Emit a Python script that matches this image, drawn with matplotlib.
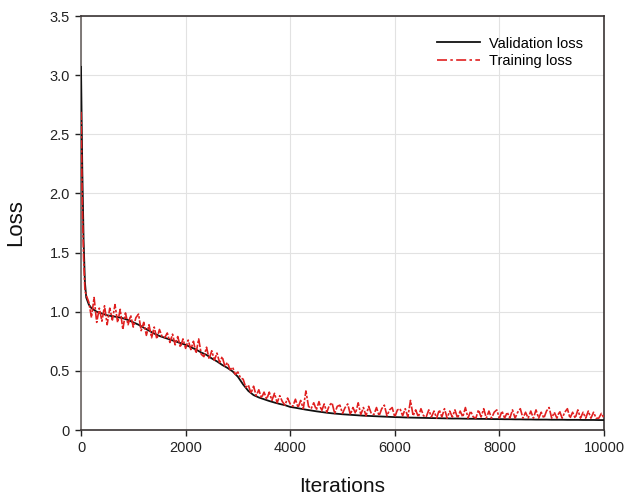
import numpy as np
import matplotlib
matplotlib.use("Agg")
import matplotlib.pyplot as plt

plt.rcParams['font.family'] = ['Liberation Sans', 'DejaVu Sans']

# ---- data ----
val_x = np.concatenate([[0, 25, 50, 75, 100, 150, 200], np.arange(300, 10001, 100)])
val_loss = [
    3.07, 2.20, 1.60, 1.25, 1.12, 1.06, 1.03,
    1.00, 0.985, 0.97, 0.962, 0.955, 0.945, 0.93, 0.91, 0.89, 0.865,
    0.84, 0.815, 0.795, 0.78, 0.765, 0.75, 0.735, 0.72, 0.70, 0.68,
    0.655, 0.635, 0.605, 0.58, 0.55, 0.525, 0.495, 0.45, 0.385, 0.33,
    0.295, 0.275, 0.26, 0.245, 0.232, 0.22, 0.21, 0.195, 0.188, 0.18,
    0.172, 0.165, 0.158, 0.152, 0.146, 0.141, 0.137, 0.133, 0.13, 0.127,
    0.124, 0.121, 0.119, 0.117, 0.115, 0.113, 0.111, 0.109, 0.108, 0.106,
    0.105, 0.104, 0.103, 0.102, 0.101, 0.10, 0.099, 0.098, 0.097, 0.097,
    0.096, 0.095, 0.095, 0.094, 0.094, 0.093, 0.092, 0.092, 0.091, 0.091,
    0.090, 0.090, 0.089, 0.089, 0.088, 0.088, 0.088, 0.087, 0.087, 0.087,
    0.086, 0.086, 0.086, 0.085, 0.085, 0.085, 0.084, 0.084,
]

train_x = np.concatenate([[0, 25, 50, 75, 100], np.arange(150, 10001, 50)])
train_loss = [
    2.69, 1.90, 1.45, 1.18, 1.14,
    1.08, 0.95, 1.12, 0.91, 1.03, 0.92, 1.05, 0.89, 1.03, 0.93,
    1.06, 0.91, 1.02, 0.85, 0.99, 0.89, 0.97, 0.87, 0.95, 0.98,
    0.84, 0.91, 0.80, 0.89, 0.78, 0.87, 0.77, 0.85, 0.79, 0.78,
    0.82, 0.74, 0.81, 0.72, 0.79, 0.70, 0.77, 0.69, 0.76, 0.68,
    0.75, 0.65, 0.77, 0.64, 0.62, 0.70, 0.60, 0.67, 0.59, 0.65,
    0.57, 0.62, 0.54, 0.57, 0.51, 0.53, 0.47, 0.49, 0.44, 0.43,
    0.36, 0.38, 0.31, 0.37, 0.29, 0.34, 0.27, 0.32, 0.26, 0.32,
    0.25, 0.31, 0.23, 0.29, 0.24, 0.21, 0.27, 0.22, 0.20, 0.26,
    0.19, 0.25, 0.18, 0.33, 0.20, 0.18, 0.23, 0.17, 0.24, 0.16,
    0.22, 0.15, 0.21, 0.23, 0.14, 0.20, 0.21, 0.14, 0.19, 0.22,
    0.13, 0.19, 0.14, 0.23, 0.13, 0.19, 0.12, 0.20, 0.14, 0.13,
    0.19, 0.12, 0.18, 0.21, 0.12, 0.17, 0.19, 0.11, 0.17, 0.18,
    0.12, 0.18, 0.11, 0.25, 0.12, 0.17, 0.11, 0.18, 0.12, 0.11,
    0.17, 0.11, 0.16, 0.10, 0.17, 0.11, 0.18, 0.10, 0.16, 0.11,
    0.17, 0.10, 0.16, 0.11, 0.19, 0.10, 0.16, 0.11, 0.10, 0.17,
    0.11, 0.18, 0.10, 0.16, 0.10, 0.15, 0.17, 0.10, 0.16, 0.10,
    0.15, 0.10, 0.17, 0.10, 0.15, 0.18, 0.10, 0.15, 0.10, 0.16,
    0.10, 0.17, 0.10, 0.15, 0.10, 0.16, 0.19, 0.10, 0.15, 0.10,
    0.16, 0.10, 0.15, 0.18, 0.10, 0.15, 0.10, 0.17, 0.10, 0.15,
    0.10, 0.16, 0.10, 0.15, 0.10, 0.10, 0.14, 0.10,
]

x_ticks = [0, 2000, 4000, 6000, 8000, 10000]
x_tick_labels = ['0', '2000', '4000', '6000', '8000', '10000']
y_ticks = [0, 0.5, 1.0, 1.5, 2.0, 2.5, 3.0, 3.5]
y_tick_labels = ['0', '0.5', '1.0', '1.5', '2.0', '2.5', '3.0', '3.5']

# ---- plot ----
fig = plt.figure(figsize=(6.27, 4.99), dpi=100)
ax = fig.add_axes([81 / 627, 69 / 499, 523 / 627, 414 / 499])

ax.plot(val_x, val_loss, color='#111111', lw=1.3, label='Validation loss', zorder=3)
ax.plot(train_x, train_loss, color='#e02020', lw=1.2, dashes=(5, 1, 1.5, 1),
        label='Training loss', zorder=4)

ax.set_xlim(0, 10000)
ax.set_ylim(0, 3.5)
ax.set_xticks(x_ticks)
ax.set_xticklabels(x_tick_labels)
ax.set_yticks(y_ticks)
ax.set_yticklabels(y_tick_labels)
ax.tick_params(axis='both', direction='out', length=4, width=1, labelsize=10.5,
               colors='#222222', pad=4)
ax.grid(True, color='#e2e2e2', lw=0.8, zorder=0)
ax.set_axisbelow(True)
for s in ax.spines.values():
    s.set_color('#3a3434')
    s.set_linewidth(1.2)
ax.spines['left'].set_color('#6a6462')

ax.set_xlabel('Iterations', fontsize=15, labelpad=16, color='#111111')
ax.set_ylabel('Loss', fontsize=16, labelpad=17, color='#111111')

leg = ax.legend(loc='upper right', bbox_to_anchor=(0.985, 0.982), frameon=False,
                fontsize=10.5, handlelength=3.0, handletextpad=0.6, labelspacing=0.22)
leg.get_lines()[1].set_dashes((6, 2, 1.5, 2))

fig.savefig('out.png', dpi=100)
